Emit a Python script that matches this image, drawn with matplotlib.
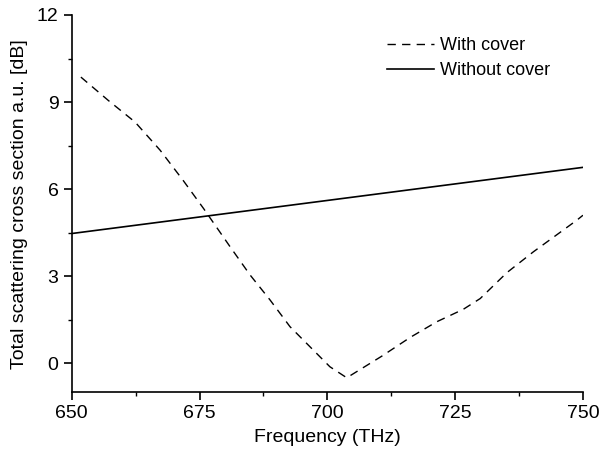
import matplotlib
matplotlib.use('Agg')
import matplotlib.pyplot as plt
from matplotlib.ticker import MultipleLocator

plt.rcParams['font.family'] = ['Liberation Sans', 'DejaVu Sans']

# Datos
freq_con = [651.8, 657.2, 662.4, 667.3, 671.8, 675.8, 681.0, 684.9, 688.8, 692.7,
            696.6, 700.5, 703.8, 710.7, 716.2, 721.4, 726.6, 729.9, 735.1, 740.3,
            748.8, 750.0]
scs_con = [9.86, 9.05, 8.31, 7.34, 6.30, 5.33, 4.01, 3.04, 2.18, 1.26,
           0.57, -0.12, -0.50, 0.25, 0.89, 1.43, 1.86, 2.23, 3.12, 3.84,
           4.93, 5.10]

freq_sin = [650, 675, 700, 725, 750]
scs_sin = [4.47, 5.04, 5.61, 6.18, 6.75]

fig = plt.figure(figsize=(6.06, 4.57), dpi=100)
ax = fig.add_axes([0.1183, 0.1416, 0.962 - 0.1183, 0.9672 - 0.1416])

ax.plot(freq_con, scs_con, color='black', lw=1.0, dashes=(6, 4.5), label='With cover')
ax.plot(freq_sin, scs_sin, color='black', lw=1.2, label='Without cover')

ax.set_xlim(650, 750)
ax.set_ylim(-1, 12)
ax.xaxis.set_major_locator(MultipleLocator(25))
ax.xaxis.set_minor_locator(MultipleLocator(12.5))
ax.yaxis.set_major_locator(MultipleLocator(3))
ax.yaxis.set_minor_locator(MultipleLocator(1.5))

for lado in ['top', 'right']:
    ax.spines[lado].set_visible(False)
for lado in ['left', 'bottom']:
    ax.spines[lado].set_linewidth(1.2)

ax.tick_params(which='major', direction='out', length=6, width=1.2, labelsize=14)
ax.tick_params(which='minor', direction='out', length=3, width=1.0)

ax.set_xlabel('Frequency (THz)', fontsize=14, labelpad=5)
ax.set_ylabel('Total scattering cross section a.u. [dB]', fontsize=14, labelpad=6)

ax.legend(loc='upper right', bbox_to_anchor=(0.968, 0.985), frameon=False, fontsize=13,
          handlelength=2.6, handletextpad=0.35, labelspacing=0.45)

fig.savefig('out.png', dpi=100)
